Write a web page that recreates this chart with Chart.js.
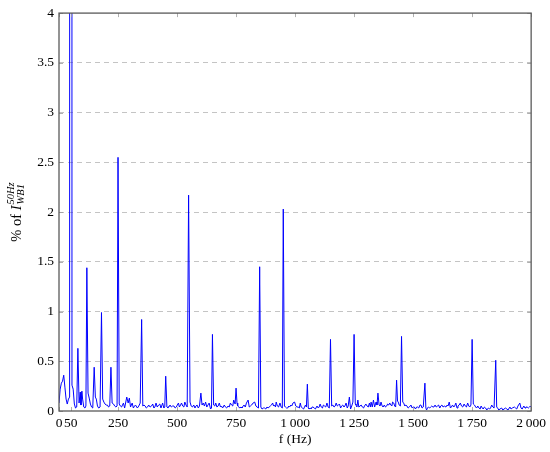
<!DOCTYPE html>
<html>
<head>
<meta charset="utf-8">
<script src="https://cdn.jsdelivr.net/npm/chart.js@4"></script>
<style>
  body { margin: 0; background: #fff; }
  #wrap { width: 550px; height: 452px; }
</style>
</head>
<body>
<div id="wrap"><canvas id="spectrum"></canvas></div>
<script>
// Spectrum of the current, in % of the 50 Hz component (50 Hz itself goes far off the scale)
const freqHz = [
  0, 5, 10, 15, 20, 25, 30, 35, 40, 45, 50, 55, 60, 65, 70, 75, 80, 85, 90, 93, 97, 100, 105, 110, 114,
  118, 123, 128, 133, 138, 143, 149, 154, 158, 163, 168, 174, 180, 185, 190, 195, 200, 205, 210, 215,
  220, 225, 231, 236, 241, 246, 250, 255, 260, 265, 273, 278, 287, 293, 298, 303, 310, 315, 320, 324,
  332, 338, 344, 350, 355, 360, 365, 370, 375, 380, 386, 392, 397, 402, 406, 411, 416, 422, 427, 432,
  439, 444, 448, 452, 457, 462, 466, 470, 476, 481, 487, 492, 497, 501, 506, 510, 515, 519, 524, 529,
  533, 538, 543, 549, 555, 560, 565, 571, 576, 580, 585, 590, 595, 601, 606, 611, 616, 621, 626, 631,
  636, 642, 646, 650, 655, 660, 664, 669, 674, 679, 684, 688, 693, 700, 705, 710, 716, 721, 726, 731,
  736, 740, 746, 750, 754, 757, 762, 766, 771, 775, 780, 784, 789, 794, 801, 806, 811, 816, 822, 829,
  834, 839, 845, 850, 855, 860, 866, 871, 876, 881, 886, 890, 895, 900, 905, 909, 913, 917, 920, 925,
  930, 936, 941, 946, 950, 955, 959, 964, 969, 973, 977, 982, 986, 991, 998, 1003, 1008, 1013, 1018,
  1022, 1026, 1031, 1036, 1040, 1044, 1048, 1052, 1056, 1059, 1064, 1068, 1072, 1076, 1081, 1086, 1093,
  1098, 1102, 1106, 1111, 1116, 1120, 1125, 1130, 1135, 1140, 1145, 1150, 1155, 1160, 1165, 1170, 1174,
  1179, 1184, 1188, 1193, 1197, 1202, 1207, 1211, 1216, 1221, 1225, 1230, 1235, 1240, 1245, 1250, 1255,
  1258, 1262, 1266, 1270, 1275, 1280, 1285, 1290, 1294, 1300, 1305, 1310, 1315, 1319, 1322, 1327, 1332,
  1337, 1343, 1347, 1351, 1356, 1360, 1364, 1369, 1373, 1378, 1383, 1388, 1392, 1397, 1401, 1406, 1410,
  1413, 1418, 1422, 1426, 1430, 1434, 1437, 1441, 1446, 1451, 1456, 1460, 1465, 1469, 1474, 1479, 1484,
  1491, 1496, 1500, 1505, 1510, 1515, 1519, 1524, 1529, 1533, 1538, 1543, 1550, 1554, 1557, 1561, 1565,
  1570, 1574, 1579, 1584, 1588, 1593, 1598, 1603, 1608, 1613, 1617, 1622, 1627, 1632, 1639, 1644, 1648,
  1653, 1658, 1662, 1667, 1672, 1676, 1681, 1686, 1690, 1695, 1700, 1705, 1710, 1716, 1721, 1726, 1731,
  1736, 1740, 1745, 1750, 1755, 1760, 1765, 1769, 1774, 1779, 1784, 1788, 1793, 1797, 1802, 1807, 1812,
  1819, 1824, 1828, 1833, 1838, 1843, 1850, 1854, 1858, 1863, 1868, 1875, 1880, 1885, 1892, 1897, 1902,
  1910, 1915, 1920, 1929, 1934, 1939, 1944, 1952, 1957, 1962, 1969, 1974, 1978, 1983, 1988, 1993, 1997, 2000
];
const pctOfI50 = [
  0.08, 0.22, 0.28, 0.30, 0.36, 0.24, 0.12, 0.07, 0.12, 0.14, 100, 0.26, 0.22, 0.07, 0.03, 0.04, 0.63, 0.08, 0.19, 0.06, 0.20, 0.12, 0.04, 0.03, 0.05,
  1.44, 0.18, 0.13, 0.07, 0.04, 0.03, 0.44, 0.14, 0.12, 0.05, 0.03, 0.04, 0.99, 0.12, 0.09, 0.07, 0.06, 0.06, 0.04, 0.05,
  0.44, 0.08, 0.07, 0.05, 0.04, 0.05, 2.55, 0.07, 0.05, 0.04, 0.08, 0.03, 0.14, 0.08, 0.13, 0.04, 0.08, 0.03, 0.05, 0.06,
  0.03, 0.05, 0.08, 0.92, 0.05, 0.06, 0.05, 0.03, 0.04, 0.06, 0.04, 0.05, 0.07, 0.03, 0.04, 0.08, 0.04, 0.06, 0.07, 0.03,
  0.08, 0.03, 0.04, 0.35, 0.04, 0.03, 0.05, 0.06, 0.04, 0.05, 0.05, 0.03, 0.04, 0.06, 0.08, 0.04, 0.06, 0.08, 0.05, 0.04,
  0.09, 0.06, 0.04, 2.17, 0.09, 0.05, 0.04, 0.06, 0.03, 0.05, 0.06, 0.03, 0.05, 0.18, 0.06, 0.08, 0.05, 0.09, 0.04, 0.06,
  0.08, 0.02, 0.03, 0.77, 0.06, 0.05, 0.08, 0.04, 0.05, 0.08, 0.04, 0.05, 0.03, 0.06, 0.04, 0.03, 0.05, 0.04, 0.08, 0.06,
  0.05, 0.11, 0.07, 0.23, 0.08, 0.05, 0.04, 0.03, 0.04, 0.03, 0.05, 0.06, 0.04, 0.08, 0.11, 0.04, 0.05, 0.06, 0.08, 0.09,
  0.05, 0.04, 0.03, 1.45, 0.04, 0.02, 0.03, 0.03, 0.02, 0.04, 0.03, 0.04, 0.05, 0.06, 0.08, 0.05, 0.06, 0.04, 0.09, 0.05,
  0.04, 0.08, 0.04, 0.03, 2.03, 0.05, 0.04, 0.03, 0.03, 0.05, 0.04, 0.06, 0.05, 0.08, 0.09, 0.05, 0.04, 0.04, 0.03,
  0.08, 0.04, 0.03, 0.02, 0.04, 0.06, 0.04, 0.27, 0.03, 0.02, 0.03, 0.02, 0.04, 0.04, 0.03, 0.02, 0.05,
  0.03, 0.04, 0.07, 0.04, 0.03, 0.06, 0.05, 0.04, 0.08, 0.04, 0.03, 0.72, 0.05, 0.06, 0.04, 0.05, 0.08,
  0.05, 0.06, 0.07, 0.03, 0.05, 0.06, 0.04, 0.05, 0.08, 0.03, 0.05, 0.14, 0.02, 0.05, 0.09, 0.77, 0.07,
  0.06, 0.04, 0.11, 0.04, 0.05, 0.06, 0.04, 0.03, 0.05, 0.07, 0.05, 0.04, 0.08, 0.04, 0.09, 0.04, 0.11,
  0.04, 0.09, 0.06, 0.18, 0.06, 0.05, 0.09, 0.05, 0.04, 0.06, 0.04, 0.05, 0.07, 0.06, 0.08, 0.06, 0.05,
  0.09, 0.08, 0.05, 0.04, 0.31, 0.10, 0.09, 0.06, 0.05, 0.75, 0.09, 0.08, 0.05, 0.06, 0.05, 0.03, 0.04,
  0.06, 0.03, 0.04, 0.04, 0.02, 0.04, 0.04, 0.03, 0.06, 0.06, 0.03, 0.04, 0.28, 0.03, 0.01, 0.03, 0.04,
  0.03, 0.04, 0.05, 0.04, 0.04, 0.06, 0.04, 0.05, 0.06, 0.03, 0.05, 0.06, 0.04, 0.05, 0.04, 0.06, 0.05,
  0.09, 0.03, 0.04, 0.06, 0.04, 0.05, 0.08, 0.03, 0.05, 0.06, 0.08, 0.05, 0.04, 0.07, 0.05, 0.04, 0.08,
  0.05, 0.04, 0.06, 0.72, 0.07, 0.06, 0.04, 0.03, 0.05, 0.03, 0.02, 0.05, 0.03, 0.02, 0.04, 0.03, 0.01,
  0.03, 0.02, 0.03, 0.06, 0.04, 0.03, 0.51, 0.04, 0.03, 0.01, 0.02, 0.03, 0.01, 0.02, 0.03, 0.02, 0.01,
  0.04, 0.02, 0.03, 0.04, 0.03, 0.02, 0.05, 0.08, 0.03, 0.02, 0.05, 0.03, 0.04, 0.04, 0.03, 0.04, 0.05, 0.04
];

// axis ticks as printed on the figure
const xTicks = [0, 50, 250, 500, 750, 1000, 1250, 1500, 1750, 2000];
const yMin = 0, yMax = 4, yStep = 0.5;

const serif = '"Liberation Serif", "DejaVu Serif", serif';

// frame around the plot with small inward ticks on all four sides
const frame = {
  id: 'frame',
  afterDraw(chart) {
    const { ctx, chartArea: a, scales } = chart;
    ctx.save();
    ctx.strokeStyle = '#9a9a9a';
    ctx.lineWidth = 0.8;
    ctx.beginPath();
    scales.x.ticks.forEach(t => {
      const px = Math.round(scales.x.getPixelForValue(t.value)) + 0.5;
      ctx.moveTo(px, a.bottom); ctx.lineTo(px, a.bottom - 4);
      ctx.moveTo(px, a.top); ctx.lineTo(px, a.top + 4);
    });
    scales.y.ticks.forEach(t => {
      const py = Math.round(scales.y.getPixelForValue(t.value)) + 0.5;
      ctx.moveTo(a.left, py); ctx.lineTo(a.left + 4, py);
      ctx.moveTo(a.right, py); ctx.lineTo(a.right - 4, py);
    });
    ctx.stroke();
    ctx.strokeStyle = '#5a5a5a';
    ctx.lineWidth = 1.3;
    ctx.strokeRect(a.left, a.top, a.right - a.left, a.bottom - a.top);
    ctx.restore();
  }
};

// y title with super- and subscript: % of I^{50Hz}_{WB1}
const yTitle = {
  id: 'yTitle',
  afterDraw(chart) {
    const { ctx, chartArea: a } = chart;
    const cy = (a.top + a.bottom) / 2;
    ctx.save();
    ctx.translate(21, cy);
    ctx.rotate(-Math.PI / 2);
    ctx.fillStyle = '#000';
    ctx.textBaseline = 'alphabetic';
    ctx.textAlign = 'left';
    const fMain = '14.5px ' + serif, fIt = 'italic 14.5px ' + serif, fSmall = 'italic 10.5px ' + serif;
    ctx.font = fMain; const w1 = ctx.measureText('% of ').width;
    ctx.font = fIt; const w2 = ctx.measureText('I').width;
    ctx.font = fSmall;
    const w3 = Math.max(ctx.measureText('50Hz').width, ctx.measureText('WB1').width);
    let x = -(w1 + w2 + w3 + 1) / 2;
    ctx.font = fMain; ctx.fillText('% of ', x, 0); x += w1;
    ctx.font = fIt; ctx.fillText('I', x, 0); x += w2 + 1;
    ctx.font = fSmall;
    ctx.fillText('50Hz', x, -7);
    ctx.fillText('WB1', x, 3);
    ctx.restore();
  }
};

new Chart(document.getElementById('spectrum'), {
  type: 'line',
  data: {
    datasets: [{
      data: freqHz.map((f, i) => ({ x: f, y: pctOfI50[i] })),
      borderColor: '#0000ff',
      borderWidth: 1,
      pointRadius: 0,
      tension: 0,
      fill: false
    }]
  },
  options: {
    responsive: true,
    maintainAspectRatio: false,
    animation: false,
    layout: { padding: { left: 0, top: 11, right: 17, bottom: 0 } },
    plugins: { legend: { display: false }, tooltip: { enabled: false } },
    scales: {
      x: {
        type: 'linear',
        min: 0,
        max: 2000,
        afterBuildTicks: s => { s.ticks = xTicks.map(v => ({ value: v })); },
        afterFit: s => { s.height = 41; },
        grid: { display: false, drawTicks: false },
        border: { display: false },
        ticks: {
          color: '#000',
          padding: 4,
          maxRotation: 0,
          autoSkip: false,
          font: { family: serif, size: 13.5 },
          callback: v => v >= 1000 ? String(v).replace(/(\d)(\d{3})$/, '$1\u2009$2') : String(v)
        },
        title: {
          display: true,
          text: 'f (Hz)',
          color: '#000',
          font: { family: serif, size: 13.5 },
          padding: { top: 0, bottom: 4 }
        }
      },
      y: {
        min: yMin,
        max: yMax,
        afterFit: s => { s.width = 59; },
        grid: {
          drawTicks: false,
          color: c => (c.tick.value === yMin || c.tick.value === yMax) ? 'rgba(0,0,0,0)' : '#c4c4c4',
          lineWidth: 1
        },
        border: { display: false, dash: [5, 4] },
        ticks: {
          stepSize: yStep,
          color: '#000',
          padding: 5,
          font: { family: serif, size: 13.5 },
          callback: v => String(v)
        }
      }
    }
  },
  plugins: [frame, yTitle]
});
</script>
</body>
</html>
